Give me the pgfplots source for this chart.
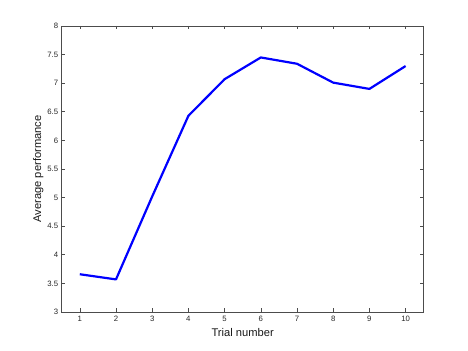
\documentclass[border=0pt]{standalone}
\usepackage{fontspec}
\setmainfont{Liberation Sans}
\usepackage{pgfplots}
\pgfplotsset{compat=1.18}
\begin{document}
\begin{tikzpicture}
\path[use as bounding box] (0,0) rectangle (468bp,351bp);
\begin{axis}[
  at={(61.7bp,39bp)}, anchor=south west,
  scale only axis, width=362bp, height=286bp,
  xmin=0.5, xmax=10.5, ymin=3, ymax=8,
  xtick={1,...,10},
  ytick={3,3.5,...,8},
  yticklabels={3,3.5,4,4.5,5,5.5,6,6.5,7,7.5,8},
  tick align=inside,
  major tick length=3.5bp,
  axis line style={black!70, line width=0.6bp},
  every tick/.style={black!70, line width=0.6bp},
  tick label style={font=\fontsize{7.8}{9}\selectfont, text=black!85},
  /pgf/number format/assume math mode=true,
  xticklabel style={yshift=-1bp},
  label style={font=\fontsize{11.2}{13}\selectfont, text=black!90},
  xlabel={Trial number},
  ylabel={Average performance},
  xlabel style={at={(axis description cs:0.5,-0.07)}, anchor=center},
  ylabel style={at={(axis description cs:-0.065,0.5)}, anchor=center, rotate=0},
]
\addplot[blue, line width=2.2bp, line join=round] coordinates {
(1,3.66) (2,3.57) (3,5.02) (4,6.43) (5,7.07) (6,7.45) (7,7.34) (8,7.01) (9,6.90) (10,7.30)
};
\end{axis}
\end{tikzpicture}
\end{document}
